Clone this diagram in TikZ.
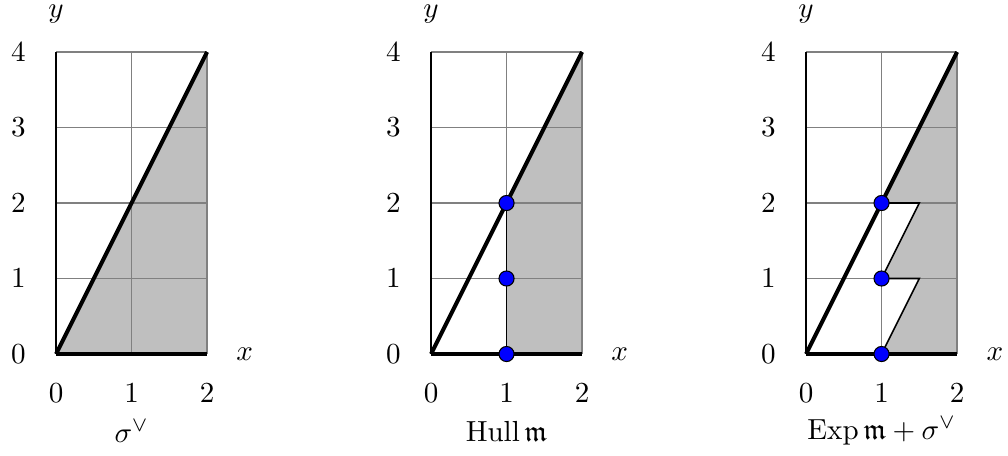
\documentclass[tikz,border=0pt]{standalone}
\usepackage{amsmath,amssymb}
\tikzset{
  gridline/.style={draw=gray, line width=0.5pt},
  axisline/.style={draw=black, line width=0.8pt},
  heavyline/.style={draw=black, line width=1.5pt},
  thinline/.style={draw=black, line width=0.6pt},
  region/.style={fill=gray!50},
  dot/.style={circle, fill=blue, draw=black, line width=0.4pt, inner sep=0pt, minimum size=0.2cm},
  lbl/.style={font=\fontsize{11.1}{13}\selectfont, inner sep=1pt},
}
\begin{document}
\begin{tikzpicture}[x=1cm,y=1cm]
\useasboundingbox (-0.742,-1.338) rectangle (12.609,4.689);
% Panel 1
\begin{scope}[name prefix=a-]
  \fill[region] (0,0) -- (2,4) -- (2,0) -- cycle;
  \draw[gridline] (0,0) grid (2,4);
  \draw[axisline] (0,0) -- (0,4);
  \draw[heavyline] (0,0) -- (2,0);
  \draw[heavyline] (0,0) -- (2,4);
  \node[lbl] (ylab) at (0,4.5) {$y$};
  \node[lbl] (xlab) at (2.5,0) {$x$};
  \foreach \k in {0,...,4} { \node[lbl] (yt\k) at (-0.5,\k) {$\k$}; }
  \foreach \k in {0,1,2} { \node[lbl] (xt\k) at (\k,-0.52) {$\k$}; }
  \node[lbl] (cap) at (1,-1.02) {$\sigma^\vee$};
\end{scope}
% Panel 2
\begin{scope}[shift={(4.967,0)}, name prefix=b-]
  \fill[region] (1,2) -- (2,4) -- (2,0) -- (1,0) -- cycle;
  \draw[gridline] (0,0) grid (2,4);
  \draw[axisline] (0,0) -- (0,4);
  \draw[thinline] (1,0) -- (1,2);
  \draw[heavyline] (0,0) -- (2,0);
  \draw[heavyline] (0,0) -- (2,4);
  \node[dot] (d0) at (1,0) {};
  \node[dot] (d1) at (1,1) {};
  \node[dot] (d2) at (1,2) {};
  \node[lbl] (ylab) at (0,4.5) {$y$};
  \node[lbl] (xlab) at (2.5,0) {$x$};
  \foreach \k in {0,...,4} { \node[lbl] (yt\k) at (-0.5,\k) {$\k$}; }
  \foreach \k in {0,1,2} { \node[lbl] (xt\k) at (\k,-0.52) {$\k$}; }
  \node[lbl] (cap) at (1,-1.02) {$\operatorname{Hull}\mathfrak{m}$};
\end{scope}
% Panel 3
\begin{scope}[shift={(9.934,0)}, name prefix=c-]
  \fill[region] (1,2) -- (2,4) -- (2,0) -- (1,0) -- (1.5,1) -- (1,1) -- (1.5,2) -- cycle;
  \draw[gridline] (0,0) grid (2,4);
  \draw[axisline] (0,0) -- (0,4);
  \draw[thinline] (1,2) -- (1.5,2) -- (1,1) -- (1.5,1) -- (1,0);
  \draw[heavyline] (0,0) -- (2,0);
  \draw[heavyline] (0,0) -- (2,4);
  \node[dot] (d0) at (1,0) {};
  \node[dot] (d1) at (1,1) {};
  \node[dot] (d2) at (1,2) {};
  \node[lbl] (ylab) at (0,4.5) {$y$};
  \node[lbl] (xlab) at (2.5,0) {$x$};
  \foreach \k in {0,...,4} { \node[lbl] (yt\k) at (-0.5,\k) {$\k$}; }
  \foreach \k in {0,1,2} { \node[lbl] (xt\k) at (\k,-0.52) {$\k$}; }
  \node[lbl] (cap) at (1,-1.02) {$\operatorname{Exp}\mathfrak{m}+\sigma^\vee$};
\end{scope}
\end{tikzpicture}
\end{document}
